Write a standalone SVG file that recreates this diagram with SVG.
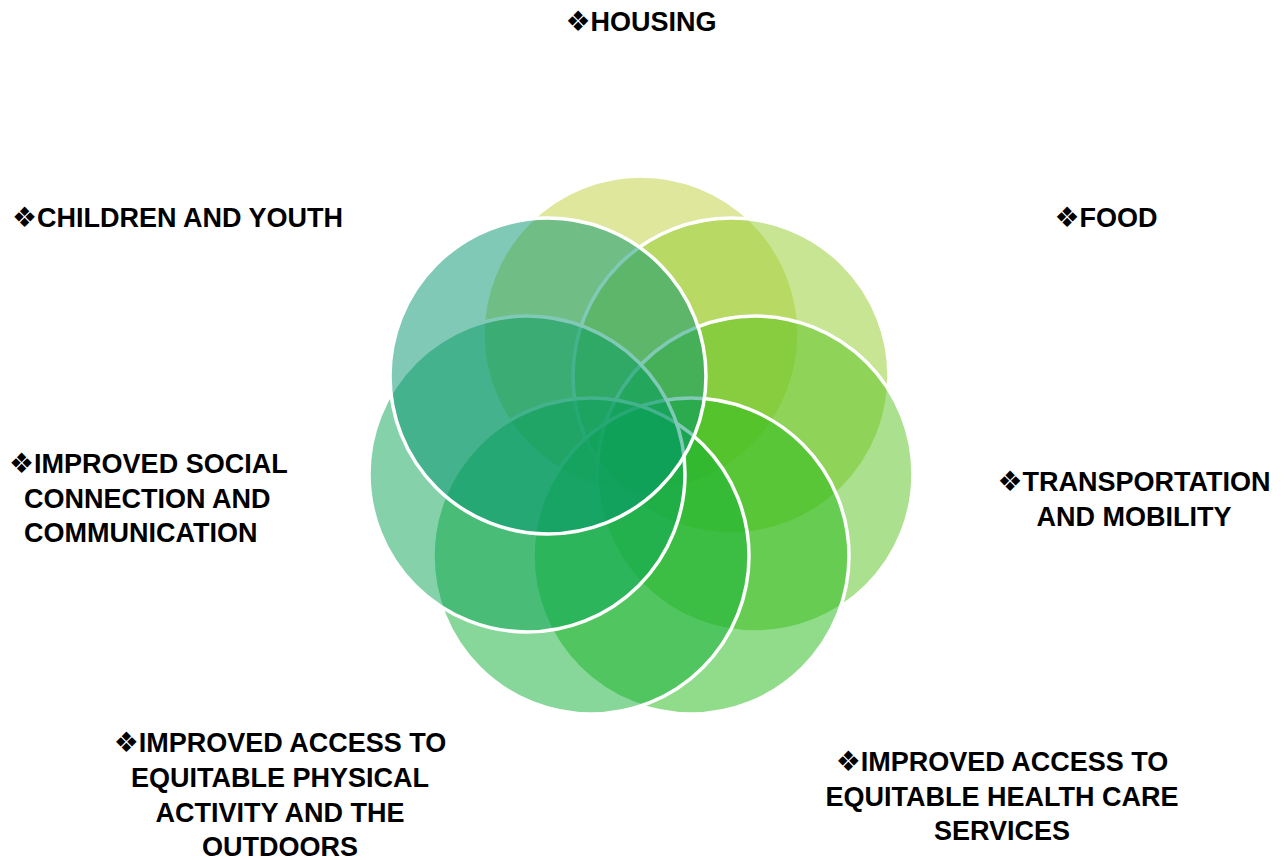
<svg xmlns="http://www.w3.org/2000/svg" width="1284" height="860" viewBox="0 0 1284 860">
<style>
.c{stroke:#ffffff;stroke-width:3.5;fill-opacity:0.5}
.t{font-family:"Liberation Sans",Arial,sans-serif;font-weight:bold;font-size:27px;fill:#000}
.b{font-family:"DejaVu Sans",sans-serif;font-weight:normal;font-size:28px}
</style>
<rect width="1284" height="860" fill="#ffffff"/>
<g id="circles">
<g id="housing"><circle class="c" cx="641" cy="334" r="158" fill="#bfcf39"/></g>
<g id="food"><circle class="c" cx="731" cy="376" r="158" fill="#91cb29"/></g>
<g id="transportation"><circle class="c" cx="755" cy="474" r="158" fill="#57c11d"/></g>
<g id="health"><circle class="c" cx="691" cy="556" r="158" fill="#21b915"/></g>
<g id="physical"><circle class="c" cx="591" cy="556" r="158" fill="#11af35"/></g>
<g id="social"><circle class="c" cx="527" cy="474" r="158" fill="#09a355"/></g>
<g id="children"><circle class="c" cx="548" cy="376" r="158" fill="#01936f"/></g>
</g>
<g id="labels">
<g id="l-housing"><text class="t" x="641" y="31" text-anchor="middle"><tspan class="b">❖</tspan>HOUSING</text></g>
<g id="l-food"><text class="t" x="1106" y="227" text-anchor="middle"><tspan class="b">❖</tspan>FOOD</text></g>
<g id="l-children"><text class="t" x="12" y="227"><tspan class="b">❖</tspan>CHILDREN AND YOUTH</text></g>
<g id="l-transport"><text class="t" text-anchor="middle"><tspan x="1134" y="491"><tspan class="b">❖</tspan>TRANSPORTATION</tspan><tspan x="1134" y="526">AND MOBILITY</tspan></text></g>
<g id="l-social"><text class="t"><tspan x="9" y="473"><tspan class="b">❖</tspan>IMPROVED SOCIAL</tspan><tspan x="24" y="508">CONNECTION AND</tspan><tspan x="24" y="542">COMMUNICATION</tspan></text></g>
<g id="l-physical"><text class="t" text-anchor="middle"><tspan x="280" y="752"><tspan class="b">❖</tspan>IMPROVED ACCESS TO</tspan><tspan x="280" y="787">EQUITABLE PHYSICAL</tspan><tspan x="280" y="822">ACTIVITY AND THE</tspan><tspan x="280" y="856">OUTDOORS</tspan></text></g>
<g id="l-health"><text class="t" text-anchor="middle"><tspan x="1002" y="771"><tspan class="b">❖</tspan>IMPROVED ACCESS TO</tspan><tspan x="1002" y="806">EQUITABLE HEALTH CARE</tspan><tspan x="1002" y="840">SERVICES</tspan></text></g>
</g>
</svg>
